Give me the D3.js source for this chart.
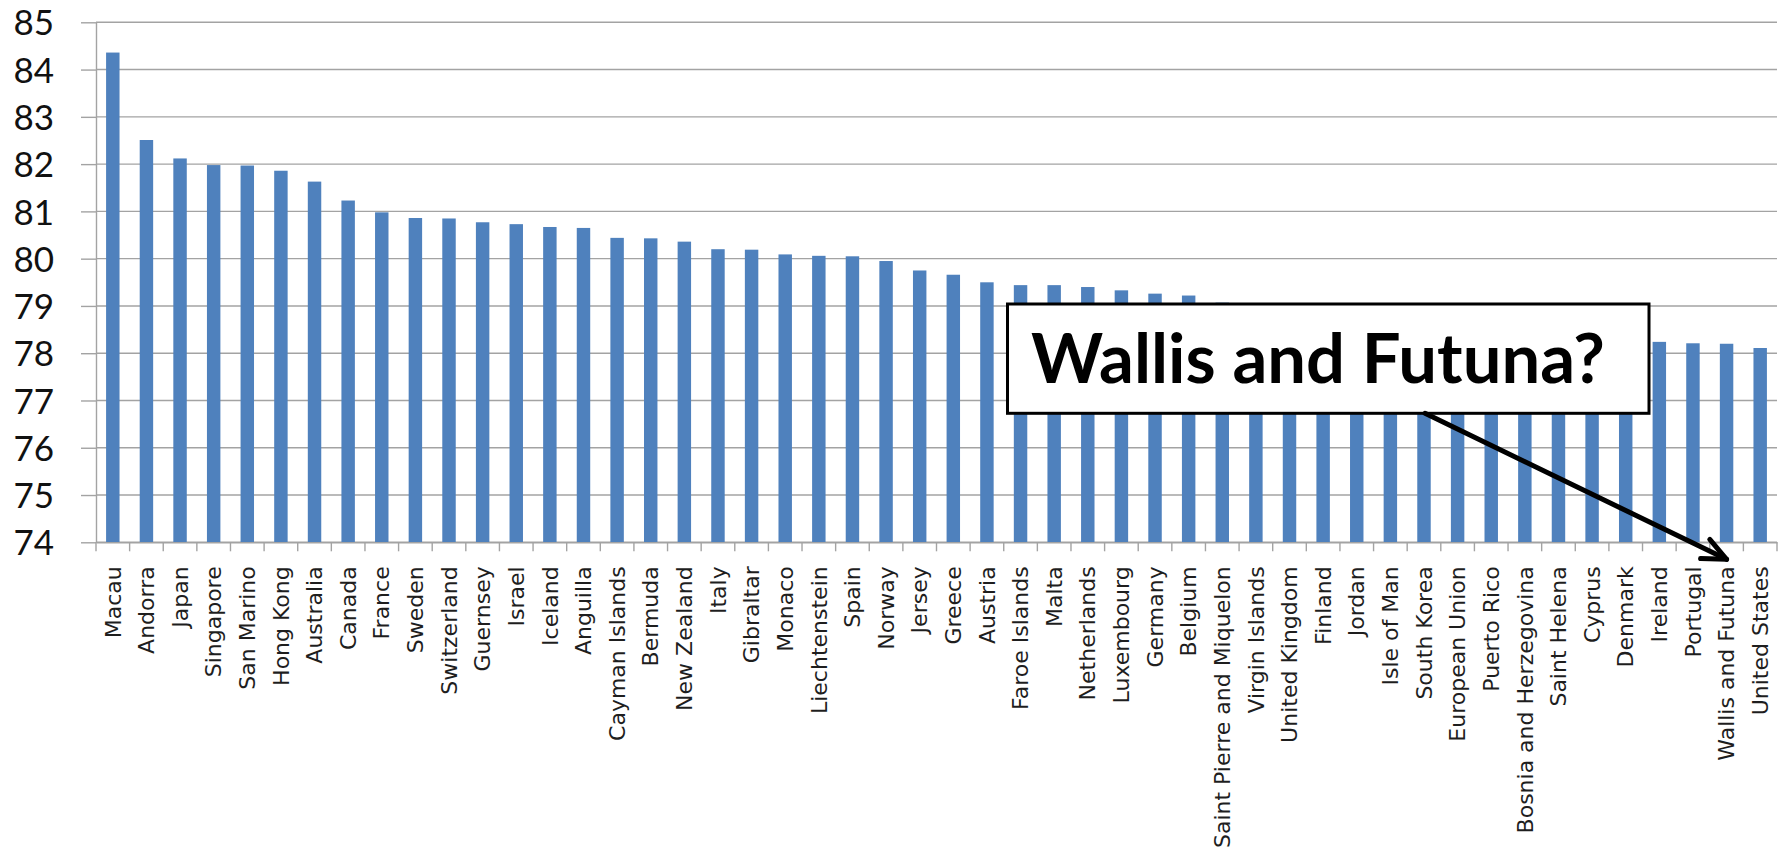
<!DOCTYPE html>
<html>
<head>
<meta charset="utf-8">
<script src="https://cdn.jsdelivr.net/npm/d3@7"></script>
<style>
  html, body { margin: 0; padding: 0; background: #fff; }
  svg { display: block; }
</style>
</head>
<body>
<svg id="chart" width="1783" height="848"></svg>
<script>
// Life expectancy at birth (years), highest first
const categories = [
  "Macau", "Andorra", "Japan", "Singapore", "San Marino", "Hong Kong", "Australia",
  "Canada", "France", "Sweden", "Switzerland", "Guernsey", "Israel", "Iceland",
  "Anguilla", "Cayman Islands", "Bermuda", "New Zealand", "Italy", "Gibraltar",
  "Monaco", "Liechtenstein", "Spain", "Norway", "Jersey", "Greece", "Austria",
  "Faroe Islands", "Malta", "Netherlands", "Luxembourg", "Germany", "Belgium",
  "Saint Pierre and Miquelon", "Virgin Islands", "United Kingdom", "Finland",
  "Jordan", "Isle of Man", "South Korea", "European Union", "Puerto Rico",
  "Bosnia and Herzegovina", "Saint Helena", "Cyprus", "Denmark", "Ireland",
  "Portugal", "Wallis and Futuna", "United States"
];
const lifeExpectancy = [
  84.36, 82.51, 82.12, 81.98, 81.97, 81.86, 81.63,
  81.23, 80.98, 80.86, 80.85, 80.77, 80.73, 80.67,
  80.65, 80.44, 80.43, 80.36, 80.20, 80.19,
  80.09, 80.06, 80.05, 79.95, 79.75, 79.66, 79.50,
  79.44, 79.44, 79.40, 79.33, 79.26, 79.22,
  79.07, 79.05, 79.01, 78.97,
  78.87, 78.82, 78.72, 78.67, 78.53,
  78.50, 78.44, 78.33, 78.30, 78.24,
  78.21, 78.20, 78.11
];
const yTickValues = [74, 75, 76, 77, 78, 79, 80, 81, 82, 83, 84, 85];
const calloutText = "Wallis and Futuna?";
const calloutTarget = "Wallis and Futuna";

const W = 1783, H = 848;
const plot = { left: 96, right: 1777, top: 22.3, bottom: 542.3 };
const gridColor = "#a3a3a3";
const barColor = "#4f81bd";

const svg = d3.select("#chart");
svg.append("rect").attr("width", W).attr("height", H).attr("fill", "#fff");

const x = d3.scaleBand()
  .domain(categories)
  .range([plot.left, plot.right])
  .paddingInner(0.6)
  .paddingOuter(0.3);

const y = d3.scaleLinear()
  .domain([d3.min(yTickValues), d3.max(yTickValues)])
  .range([plot.bottom, plot.top]);

// horizontal gridlines
svg.append("g")
  .selectAll("line")
  .data(yTickValues)
  .join("line")
  .attr("x1", plot.left)
  .attr("x2", plot.right)
  .attr("y1", d => y(d))
  .attr("y2", d => y(d))
  .attr("stroke", gridColor)
  .attr("stroke-width", 1.4);

// value axis
const yAxisG = svg.append("g")
  .attr("transform", `translate(${plot.left},0)`)
  .call(d3.axisLeft(y)
    .tickValues(yTickValues)
    .tickSize(15)
    .tickSizeOuter(0)
    .tickPadding(27)
    .tickFormat(d3.format("d")));
yAxisG.select(".domain").attr("stroke", gridColor).attr("stroke-width", 1.4);
yAxisG.selectAll(".tick line").attr("stroke", gridColor).attr("stroke-width", 1.4);
yAxisG.selectAll(".tick text")
  .attr("dy", "0.36em")
  .attr("fill", "#111")
  .style("font-family", "Lato, 'Open Sans', sans-serif")
  .style("font-size", "35px");

// bars
svg.append("g")
  .selectAll("rect")
  .data(categories.map((c, i) => ({ name: c, value: lifeExpectancy[i] })))
  .join("rect")
  .attr("x", d => x(d.name))
  .attr("y", d => y(d.value))
  .attr("width", x.bandwidth())
  .attr("height", d => y(y.domain()[0]) - y(d.value))
  .attr("fill", barColor);

// category axis
const xAxisG = svg.append("g")
  .attr("transform", `translate(0,${plot.bottom})`)
  .call(d3.axisBottom(x).tickSize(0).tickSizeOuter(0).tickPadding(0));
xAxisG.select(".domain").attr("stroke", gridColor).attr("stroke-width", 1.4);
xAxisG.selectAll(".tick text")
  .attr("transform", "rotate(-90)")
  .attr("x", -24)
  .attr("y", 0)
  .attr("dy", "0.35em")
  .style("text-anchor", "end")
  .attr("fill", "#1e1e1e")
  .style("font-family", "'DejaVu Sans', Verdana, sans-serif")
  .style("font-size", "22px");

// tick marks between categories
const gap = (x.step() - x.bandwidth()) / 2;
const boundaries = categories.map(c => x(c) - gap).concat([x(categories[categories.length - 1]) + x.bandwidth() + gap]);
svg.append("g")
  .selectAll("line")
  .data(boundaries)
  .join("line")
  .attr("x1", d => d)
  .attr("x2", d => d)
  .attr("y1", plot.bottom)
  .attr("y2", plot.bottom + 9)
  .attr("stroke", gridColor)
  .attr("stroke-width", 1.4);

// callout box
const box = { x: 1007.5, y: 304, w: 641.5, h: 109.3 };
const callout = svg.append("g");
callout.append("rect")
  .attr("x", box.x).attr("y", box.y)
  .attr("width", box.w).attr("height", box.h)
  .attr("fill", "#fff")
  .attr("stroke", "#000")
  .attr("stroke-width", 3);
callout.append("text")
  .attr("x", 1031)
  .attr("y", 382.7)
  .attr("textLength", 574)
  .attr("lengthAdjust", "spacingAndGlyphs")
  .attr("fill", "#000")
  .style("font-family", "Lato, 'Open Sans', sans-serif")
  .style("font-weight", "bold")
  .style("font-size", "68px")
  .text(calloutText);

// arrow pointing at the target category
const tip = [x(calloutTarget) + x.bandwidth() / 2, y(y.domain()[0]) + 17];
const start = [1425, box.y + box.h];
const ang = Math.atan2(start[1] - tip[1], start[0] - tip[0]);
const armLen = 26, spread = 24 * Math.PI / 180;
const arm = a => [tip[0] + armLen * Math.cos(a), tip[1] + armLen * Math.sin(a)];
const arrow = svg.append("g")
  .attr("fill", "none")
  .attr("stroke", "#000")
  .attr("stroke-width", 5)
  .attr("stroke-linecap", "round")
  .attr("stroke-linejoin", "round");
arrow.append("path").attr("d", d3.line()([start, tip]));
arrow.append("path").attr("d", d3.line()([arm(ang - spread), tip, arm(ang + spread)]));
</script>
</body>
</html>
